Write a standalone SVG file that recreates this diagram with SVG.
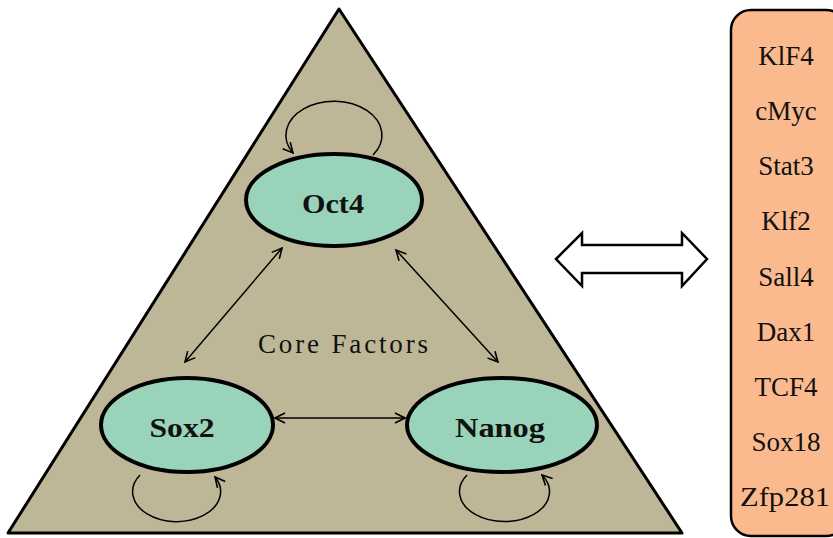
<svg xmlns="http://www.w3.org/2000/svg" width="833" height="538" viewBox="0 0 833 538">
<defs>
<marker id="ah" viewBox="0 0 12 12" refX="11" refY="6" markerWidth="12" markerHeight="12" markerUnits="userSpaceOnUse" orient="auto-start-reverse">
<path d="M1,1 L11,6 L1,11" fill="none" stroke="#000" stroke-width="1.6"/>
</marker>
<style>
.node{fill:#99D4BA;stroke:#000;stroke-width:4}
.lbl{font-weight:bold;font-size:28px;text-anchor:middle;fill:#111}
.con{fill:none;stroke:#000;stroke-width:1.5}
.fac{font-size:27px;text-anchor:middle;fill:#111}
</style>
</defs>
<rect width="833" height="538" fill="#fff"/>
<g id="triangle">
<polygon points="339,9 8,533 682,533" fill="#BDB797" stroke="#000" stroke-width="3" stroke-linejoin="round"/>
<text x="343" y="353" font-family="'Liberation Serif', serif" font-size="27" text-anchor="middle" fill="#111" textLength="170" lengthAdjust="spacing">Core Factors</text>
</g>
<g id="connectors">
<path class="con" d="M373,155 A48,34 0 1 0 293,153" marker-end="url(#ah)"/>
<path class="con" d="M140,475 A44,30 0 1 0 215,477" marker-end="url(#ah)"/>
<path class="con" d="M467,475 A45,30 0 1 0 542,475" marker-end="url(#ah)"/>
<line class="con" x1="282" y1="248" x2="185" y2="362" marker-start="url(#ah)" marker-end="url(#ah)"/>
<line class="con" x1="396" y1="250" x2="498" y2="362" marker-start="url(#ah)" marker-end="url(#ah)"/>
<line class="con" x1="275" y1="418" x2="405" y2="418" marker-start="url(#ah)" marker-end="url(#ah)"/>
</g>
<g id="oct4" font-family="'Liberation Serif', serif">
<ellipse class="node" cx="334" cy="200" rx="88" ry="46"/>
<text class="lbl" x="333" y="213" textLength="62" lengthAdjust="spacingAndGlyphs">Oct4</text>
</g>
<g id="sox2" font-family="'Liberation Serif', serif">
<ellipse class="node" cx="187" cy="425" rx="86" ry="47"/>
<text class="lbl" x="182" y="437" textLength="65" lengthAdjust="spacingAndGlyphs">Sox2</text>
</g>
<g id="nanog" font-family="'Liberation Serif', serif">
<ellipse class="node" cx="502" cy="425" rx="95" ry="47"/>
<text class="lbl" x="500" y="437" textLength="90" lengthAdjust="spacingAndGlyphs">Nanog</text>
</g>
<g id="double-arrow">
<polygon points="556,259 582,233 582,245 682,245 682,233 707,259 682,286 682,273 582,273 582,286" fill="#fff" stroke="#000" stroke-width="2.5" stroke-linejoin="miter"/>
</g>
<g id="factors" font-family="'Liberation Serif', serif">
<rect x="731" y="10" width="115" height="526" rx="20" ry="20" fill="#FBBA8E" stroke="#000" stroke-width="2.5"/>
<text class="fac" x="786" y="65">KlF4</text>
<text class="fac" x="786" y="120">cMyc</text>
<text class="fac" x="786" y="175">Stat3</text>
<text class="fac" x="786" y="230">Klf2</text>
<text class="fac" x="786" y="286">Sall4</text>
<text class="fac" x="786" y="341">Dax1</text>
<text class="fac" x="786" y="396">TCF4</text>
<text class="fac" x="786" y="451">Sox18</text>
<text class="fac" x="785" y="506" textLength="90" lengthAdjust="spacingAndGlyphs">Zfp281</text>
</g>
</svg>
